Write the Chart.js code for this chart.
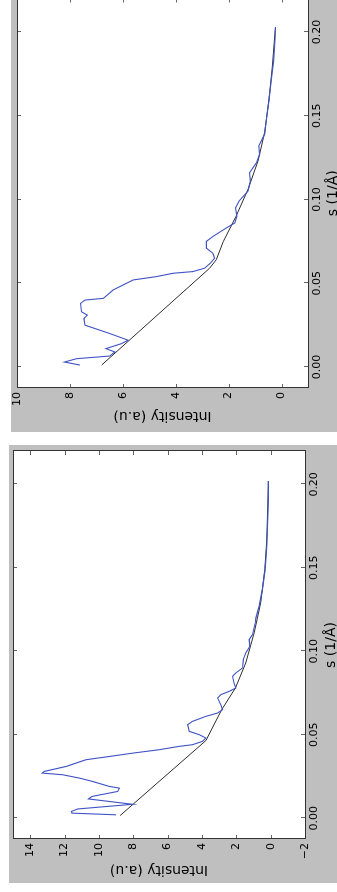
<!DOCTYPE html>
<html>
<head>
<meta charset="utf-8">
<script src="https://cdn.jsdelivr.net/npm/chart.js@4.4.1/dist/chart.umd.min.js"></script>
<style>
  html, body { margin: 0; padding: 0; background: #fff; }
  body { width: 337px; height: 892px; overflow: hidden; position: relative; }
  .panel { position: absolute; left: 0; top: 0; transform-origin: 0 0; }
  .panel canvas { display: block; }
</style>
</head>
<body>
<div class="panel" id="p1"><canvas id="c1"></canvas></div>
<div class="panel" id="p2"><canvas id="c2"></canvas></div>
<script>
// tick labels
const sTicks = [0, 0.05, 0.10, 0.15, 0.20];
const topIntensityTicks = [0, 2, 4, 6, 8, 10];
const bottomIntensityTicks = [-2, 0, 2, 4, 6, 8, 10, 12, 14];

// upper panel: measured curve (blue) and background (black)
const topS = [0.0012, 0.003, 0.005, 0.0066, 0.009, 0.011, 0.014, 0.016, 0.020, 0.025,
  0.029, 0.031, 0.033, 0.038, 0.040, 0.041, 0.046, 0.052, 0.054, 0.056,
  0.057, 0.059, 0.062, 0.065, 0.068, 0.071, 0.075, 0.078, 0.083, 0.086,
  0.090, 0.095, 0.099, 0.105, 0.111, 0.116, 0.122, 0.127, 0.132, 0.139,
  0.147, 0.159, 0.171, 0.183, 0.195, 0.203];
const topIntensity = [7.62, 8.21, 7.75, 6.49, 6.30, 6.64, 6.05, 5.80, 6.49, 7.43,
  7.47, 7.34, 7.56, 7.60, 7.43, 6.74, 6.37, 5.61, 4.73, 4.10,
  3.35, 2.91, 2.69, 2.53, 2.60, 2.84, 2.84, 2.59, 2.09, 1.77,
  1.69, 1.74, 1.61, 1.27, 1.18, 1.21, 0.95, 0.83, 0.86, 0.64,
  0.58, 0.48, 0.39, 0.30, 0.25, 0.23];
const topBaseS = [0.0012, 0.059, 0.064, 0.075, 0.090, 0.106, 0.123, 0.140, 0.159, 0.179, 0.199, 0.203];
const topBase = [6.80, 2.72, 2.47, 2.20, 1.72, 1.27, 0.89, 0.64, 0.48, 0.35, 0.25, 0.23];

// lower panel
const bottomS = [0.002, 0.003, 0.004, 0.0055, 0.0083, 0.0115, 0.013, 0.016, 0.018, 0.019,
  0.022, 0.024, 0.026, 0.027, 0.028, 0.031, 0.035, 0.037, 0.039, 0.041,
  0.043, 0.044, 0.046, 0.048, 0.050, 0.052, 0.056, 0.058, 0.061, 0.063,
  0.065, 0.068, 0.072, 0.074, 0.076, 0.078, 0.081, 0.085, 0.087, 0.090,
  0.095, 0.099, 0.103, 0.107, 0.110, 0.117, 0.120, 0.127, 0.137, 0.149,
  0.162, 0.178, 0.192, 0.202];
const bottomIntensity = [9.0, 11.57, 11.6, 11.24, 8.04, 10.6, 10.4, 8.91, 8.8, 9.39,
  10.37, 11.14, 12.11, 13.3, 13.18, 11.9, 10.75, 9.36, 8.0, 6.49,
  5.33, 4.55, 3.97, 3.77, 4.16, 4.74, 4.83, 4.55, 3.77, 3.09,
  2.80, 2.90, 3.09, 2.90, 2.41, 2.03, 2.13, 2.22, 2.03, 1.64,
  1.59, 1.45, 1.21, 1.25, 1.06, 0.90, 0.86, 0.67, 0.48, 0.32,
  0.23, 0.17, 0.13, 0.13];
const bottomBaseS = [0.0016, 0.0465, 0.065, 0.078, 0.093, 0.111, 0.129, 0.149, 0.166, 0.186, 0.202];
const bottomBase = [8.76, 3.77, 2.85, 2.05, 1.45, 0.96, 0.58, 0.34, 0.23, 0.17, 0.13];

const FONT = "'DejaVu Sans', sans-serif";

function points(xs, ys) {
  return xs.map((x, i) => ({ x: x, y: ys[i] }));
}

function minusLabel(v) {
  return v < 0 ? '\u2212' + Math.abs(v) : String(v);
}

// grey figure, white axes, frame and inward ticks on every side (matplotlib classic look)
const frame = {
  id: 'frame',
  beforeDraw(chart) {
    const { ctx, chartArea: a, width, height } = chart;
    ctx.save();
    ctx.fillStyle = '#bfbfbf';
    ctx.fillRect(0, 0, width, height);
    ctx.fillStyle = '#fff';
    ctx.fillRect(a.left, a.top, a.right - a.left, a.bottom - a.top);
    ctx.restore();
  },
  afterDraw(chart) {
    const { ctx, chartArea: a, scales: { x, y } } = chart;
    ctx.save();
    ctx.strokeStyle = '#666';
    ctx.lineWidth = 1;
    ctx.beginPath();
    x.ticks.forEach(t => {
      const px = Math.round(x.getPixelForValue(t.value)) + 0.5;
      ctx.moveTo(px, a.bottom); ctx.lineTo(px, a.bottom - 4);
      ctx.moveTo(px, a.top); ctx.lineTo(px, a.top + 4);
    });
    y.ticks.forEach(t => {
      const py = Math.round(y.getPixelForValue(t.value)) + 0.5;
      ctx.moveTo(a.left, py); ctx.lineTo(a.left + 4, py);
      ctx.moveTo(a.right, py); ctx.lineTo(a.right - 4, py);
    });
    ctx.stroke();
    ctx.strokeStyle = '#333';
    ctx.strokeRect(Math.round(a.left) + 0.5, Math.round(a.top) + 0.5,
      Math.round(a.right - a.left), Math.round(a.bottom - a.top));
    ctx.restore();
  }
};

// each panel is drawn upright, then turned a quarter turn to the left like the reference
function makePanel(divId, canvasId, p) {
  const div = document.getElementById(divId);
  const canvas = document.getElementById(canvasId);
  div.style.width = p.w + 'px';
  div.style.height = p.h + 'px';
  div.style.transform = 'translate(' + p.left + 'px,' + (p.top + p.w) + 'px) rotate(-90deg)';
  canvas.width = p.w;
  canvas.height = p.h;

  return new Chart(canvas, {
    type: 'scatter',
    data: {
      datasets: [
        { data: points(p.baseS, p.base), borderColor: '#2e2e2e', borderWidth: 1,
          showLine: true, pointRadius: 0, tension: 0, order: 2 },
        { data: points(p.s, p.intensity), borderColor: '#3f53c4', borderWidth: 1.1,
          showLine: true, pointRadius: 0, tension: 0, order: 1 }
      ]
    },
    options: {
      responsive: false,
      animation: false,
      devicePixelRatio: 1,
      layout: { padding: { left: 0, top: p.padTop, right: p.padRight, bottom: 0 } },
      plugins: { legend: { display: false }, tooltip: { enabled: false } },
      scales: {
        x: {
          type: 'linear', position: 'bottom', min: -0.0125, max: 0.22,
          grid: { display: false, drawTicks: false },
          border: { display: false },
          afterBuildTicks: s => { s.ticks = sTicks.map(v => ({ value: v })); },
          ticks: { padding: 3, color: '#000', autoSkip: false, maxRotation: 0,
            font: { family: FONT, size: 11 }, callback: v => v.toFixed(2) },
          title: { display: true, text: 's (1/Å)', color: '#000',
            font: { family: FONT, size: 14 }, padding: { top: 0, bottom: p.xTitlePad } },
          afterFit: s => { s.height = p.xHeight; s.paddingLeft = 0; s.paddingRight = 0; }
        },
        y: {
          type: 'linear', position: 'left', min: p.yMin, max: p.yMax,
          grid: { display: false, drawTicks: false },
          border: { display: false },
          afterBuildTicks: s => { s.ticks = p.yTicks.map(v => ({ value: v })); },
          ticks: { padding: 4, color: '#000', autoSkip: false,
            font: { family: FONT, size: 11 }, callback: minusLabel },
          title: { display: true, text: 'Intensity (a.u)', color: '#000',
            font: { family: FONT, size: 14 }, padding: { top: p.yTitlePad, bottom: 0 } },
          afterFit: s => { s.width = 44; s.paddingTop = 0; s.paddingBottom = 0; }
        }
      }
    },
    plugins: [frame]
  });
}

makePanel('p1', 'c1', {
  left: 11, top: -20, w: 452, h: 339,
  padTop: 6, padRight: 18.5, xHeight: 42, xTitlePad: 8.6, yTitlePad: 7.6,
  yMin: -1, yMax: 10, yTicks: topIntensityTicks,
  s: topS, intensity: topIntensity, baseS: topBaseS, base: topBase
});

makePanel('p2', 'c2', {
  left: 9, top: 445, w: 438, h: 341,
  padTop: 4, padRight: 6, xHeight: 45, xTitlePad: 10, yTitlePad: 4.6,
  yMin: -2, yMax: 15, yTicks: bottomIntensityTicks,
  s: bottomS, intensity: bottomIntensity, baseS: bottomBaseS, base: bottomBase
});
</script>
</body>
</html>
